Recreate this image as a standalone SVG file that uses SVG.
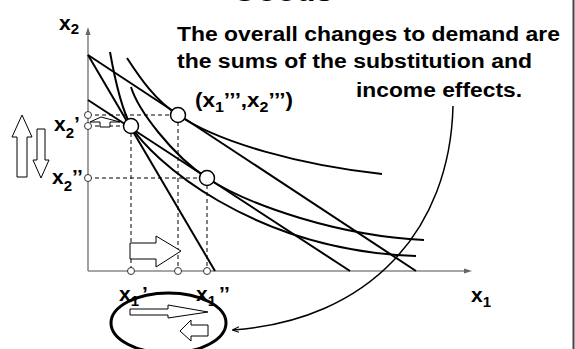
<svg xmlns="http://www.w3.org/2000/svg" width="575" height="349" viewBox="0 0 575 349">
<defs>
<style>
text{font-family:"Liberation Sans",Arial,sans-serif;font-weight:bold;fill:#000}
.lbl{font-size:21px}
.sub{font-size:15px}
.axis{stroke:#888;stroke-width:1.6;fill:none}
.curve{stroke:#000;stroke-width:2;fill:none}
.dash{stroke:#000;stroke-width:1;stroke-dasharray:4,3;fill:none}
.big{fill:#fff;stroke:#000;stroke-width:1.5}
.small{fill:#fff;stroke:#333;stroke-width:1}
.blk{fill:#fff;stroke:#000;stroke-width:1}
</style>
<marker id="ah" viewBox="0 0 10 10" refX="9" refY="5" markerWidth="7" markerHeight="7" orient="auto" markerUnits="userSpaceOnUse">
<path d="M0,1 L10,5 L0,9" fill="none" stroke="#000" stroke-width="1.5"/>
</marker>
</defs>
<rect width="575" height="349" fill="#fff"/>
<line x1="573.5" y1="0" x2="573.5" y2="349" stroke="#444" stroke-width="2"/>
<text x="232" y="0.7" style="font-size:32px">Goods</text>

<g id="axes">
<line class="axis" x1="88" y1="271" x2="88" y2="33"/>
<polygon points="88,27 85.5,35 90.5,35" fill="#666"/>
<line class="axis" x1="88" y1="271" x2="466" y2="271"/>
<polygon points="472,271 464,268.5 464,273.5" fill="#666"/>
</g>

<g id="connectors">
<path class="curve" d="M88,55 L215,271"/>
<path class="curve" d="M88,55 L416,271"/>
<path class="curve" d="M88,100 L350,271"/>
<path class="curve" d="M110,52 C115,80 122,110 131,126 C150,158 250,250 416,256"/>
<path class="curve" d="M131,87 C138,110 172,155 207,178 C250,206 340,236 424,240"/>
<path class="curve" d="M127,58 C140,78 155,100 178,115 C220,143 300,165 382,174"/>
<path class="dash" d="M88,115 H178 M88,126 H131 M88,178 H207 M131,126 V271 M178,115 V271 M207,178 V271"/>
<path d="M453,106 C450,230 370,320 233,330" fill="none" stroke="#000" stroke-width="1.5" marker-end="url(#ah)"/>
</g>

<g id="points">
<circle class="small" cx="88" cy="115" r="3.5"/>
<circle class="small" cx="88" cy="126" r="3.5"/>
<circle class="small" cx="88" cy="178" r="3.5"/>
<circle class="small" cx="131" cy="271" r="3.5"/>
<circle class="small" cx="178" cy="271" r="3.5"/>
<circle class="small" cx="207" cy="271" r="3.5"/>
<circle class="big" cx="131" cy="126" r="7.5"/>
<circle class="big" cx="178" cy="115" r="7.5"/>
<circle class="big" cx="207" cy="178" r="7.5"/>
</g>

<g id="arrows">
<polygon class="blk" points="22,115 32,137 27,137 27,177 17,177 17,137 12,137"/>
<polygon class="blk" points="41,178 49,160 45,160 45,129 37,129 37,160 33,160"/>
<polygon class="blk" points="100,127 110,127 110,122 120,122 101,117 90,122 100,122"/>
<polygon class="blk" points="130,243 156,243 156,236 181,251 156,267 156,259 130,259"/>
</g>

<g id="labels">
<text class="lbl" x="59" y="30">x<tspan class="sub" dy="4">2</tspan></text>
<text class="lbl" x="54" y="131">x<tspan class="sub" dy="7">2</tspan><tspan dy="-7">’</tspan></text>
<text class="lbl" x="52" y="184">x<tspan class="sub" dy="7">2</tspan><tspan dy="-7">’’</tspan></text>
<text class="lbl" x="119" y="301">x<tspan class="sub" dy="5">1</tspan><tspan dx="3" dy="-5">’</tspan></text>
<text class="lbl" x="196" y="301">x<tspan class="sub" dy="5">1</tspan><tspan dx="3" dy="-5">’’</tspan></text>
<text class="lbl" x="471" y="302">x<tspan class="sub" dy="5">1</tspan></text>
<text class="lbl" x="195" y="107" textLength="98" lengthAdjust="spacingAndGlyphs">(x<tspan class="sub" dy="5">1</tspan><tspan dy="-5">’’’,x</tspan><tspan class="sub" dy="5">2</tspan><tspan dy="-5">’’’)</tspan></text>
</g>

<g id="note">
<text x="177" y="41" style="font-size:19.5px" textLength="383" lengthAdjust="spacingAndGlyphs">The overall changes to demand are</text>
<text x="177" y="68" style="font-size:19.5px" textLength="355" lengthAdjust="spacingAndGlyphs">the sums of the substitution and</text>
<text x="356" y="97" style="font-size:19.5px" textLength="166" lengthAdjust="spacingAndGlyphs">income effects.</text>
</g>

<g id="effects">
<ellipse cx="168.5" cy="323" rx="57.5" ry="30" fill="none" stroke="#000" stroke-width="3"/>
<polygon class="blk" points="130,309 168,309 168,305 208,312 168,318 168,315 130,315"/>
<polygon class="blk" points="180,331 191,320 191,325 208,325 208,336 191,336 191,341"/>
</g>
</svg>
